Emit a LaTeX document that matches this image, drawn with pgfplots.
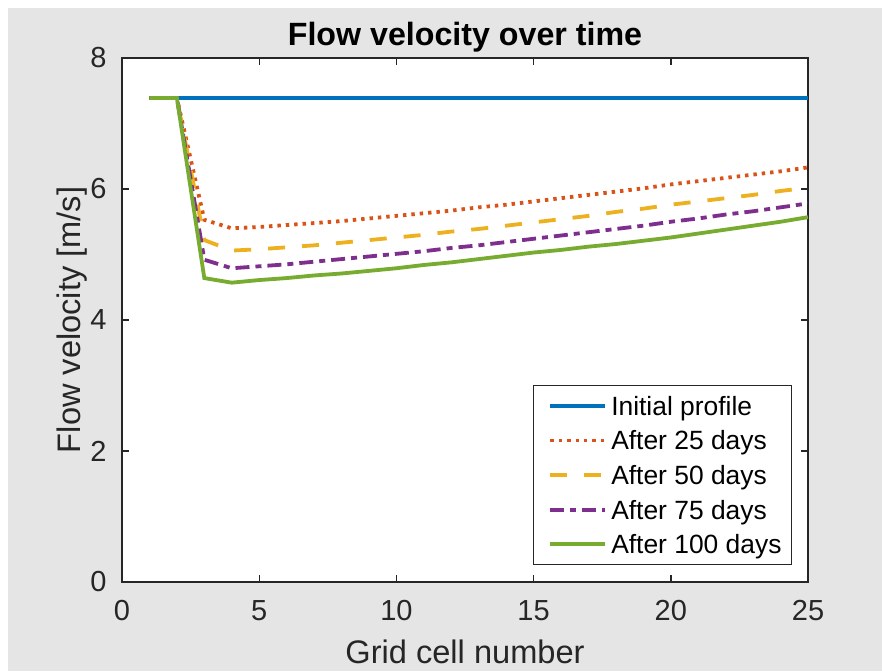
\documentclass[border=0pt]{standalone}
\usepackage{pgfplots}
\pgfplotsset{compat=1.18}
\usepackage{fontspec}
\setmainfont{Liberation Sans}
\definecolor{bg}{HTML}{E5E5E5}
\definecolor{axc}{HTML}{262626}
\definecolor{mblue}{HTML}{0072BD}
\definecolor{morange}{HTML}{D95319}
\definecolor{myellow}{HTML}{EDB120}
\definecolor{mpurple}{HTML}{7E2F8E}
\definecolor{mgreen}{HTML}{77AC30}
\begin{document}
\begin{tikzpicture}[x=1pt,y=1pt]
\fill[white] (0,0) rectangle (441,335.5);
\fill[bg] (4,0) rectangle (441,331.5);
\begin{axis}[
  at={(61pt,44.5pt)}, anchor=south west,
  scale only axis, width=343pt, height=262pt,
  axis background/.style={fill=white},
  xmin=0, xmax=25, ymin=0, ymax=8,
  xtick={0,5,10,15,20,25}, ytick={0,2,4,6,8},
  tick align=inside, major tick length=3.5pt,
  axis line style={color=axc, line width=0.7pt},
  every tick/.style={color=axc, line width=0.7pt},
  /pgf/number format/assume math mode=true,
  ticklabel style={font=\fontsize{14.5}{16}\selectfont, text=axc},
  xticklabel style={inner sep=0pt, anchor=north, yshift=-9pt},
  yticklabel style={inner sep=0pt, anchor=east, xshift=-7.5pt},
  every axis title shift=0pt,
  title={\bfseries Flow velocity over time},
  title style={font=\fontsize{16.1}{18}\selectfont, at={(axis description cs:0.5,1.0248)}, anchor=base, inner sep=0pt},
  xlabel={Grid cell number},
  xlabel style={font=\fontsize{16.3}{18}\selectfont, text=axc, at={(axis description cs:0.5,-0.1546)}, anchor=base, inner sep=0pt},
  ylabel={Flow velocity [m/s]},
  ylabel style={font=\fontsize{16.3}{18}\selectfont, text=axc, at={(axis description cs:-0.0612,0.5)}, anchor=base, inner sep=0pt, rotate=0},
  legend style={at={(axis description cs:1,0)}, anchor=south east, xshift=-8pt, yshift=8.5pt,
    draw=axc, line width=0.5pt, fill=white,
    font=\fontsize{13.2}{15}\selectfont,
    inner xsep=5pt, inner ysep=1.5pt,
    nodes={inner sep=0pt, text height=13.35pt, text depth=3.95pt},
    column sep=2pt},
  legend cell align=left,
  legend image code/.code={\path (-2.5pt,0pt); \draw[#1] (0pt,0pt) -- (27.5pt,0pt);},
]
\addplot[mblue, line width=1.9pt] coordinates {
(1,7.39) (2,7.39) (3,7.39) (4,7.39) (5,7.39) (6,7.39) (7,7.39) (8,7.39) (9,7.39) (10,7.39)
(11,7.39) (12,7.39) (13,7.39) (14,7.39) (15,7.39) (16,7.39) (17,7.39) (18,7.39) (19,7.39) (20,7.39)
(21,7.39) (22,7.39) (23,7.39) (24,7.39) (25,7.39)};
\addlegendentry{Initial profile}
\addplot[morange, line width=1.9pt, line cap=butt, dash pattern=on 1.7pt off 2.5pt] coordinates {
(1,7.39) (2,7.39) (3,5.53) (4,5.40) (5,5.42) (6,5.45) (7,5.48) (8,5.51) (9,5.55) (10,5.59)
(11,5.63) (12,5.67) (13,5.72) (14,5.76) (15,5.81) (16,5.86) (17,5.91) (18,5.96) (19,6.01) (20,6.07)
(21,6.12) (22,6.17) (23,6.22) (24,6.27) (25,6.33)};
\addlegendentry{After 25 days}
\addplot[myellow, line width=1.9pt, line cap=butt, dash pattern=on 8.5pt off 8.5pt] coordinates {
(1,7.39) (2,7.39) (3,5.22) (4,5.06) (5,5.08) (6,5.11) (7,5.14) (8,5.18) (9,5.22) (10,5.26)
(11,5.30) (12,5.35) (13,5.39) (14,5.44) (15,5.49) (16,5.54) (17,5.59) (18,5.65) (19,5.70) (20,5.76)
(21,5.81) (22,5.86) (23,5.91) (24,5.97) (25,6.02)};
\addlegendentry{After 50 days}
\addplot[mpurple, line width=1.9pt, line cap=butt, dash pattern=on 7pt off 3pt on 3pt off 3pt] coordinates {
(1,7.39) (2,7.39) (3,4.92) (4,4.79) (5,4.82) (6,4.85) (7,4.89) (8,4.93) (9,4.97) (10,5.01)
(11,5.05) (12,5.10) (13,5.14) (14,5.19) (15,5.24) (16,5.29) (17,5.34) (18,5.39) (19,5.44) (20,5.50)
(21,5.55) (22,5.61) (23,5.66) (24,5.72) (25,5.78)};
\addlegendentry{After 75 days}
\addplot[mgreen, line width=1.9pt] coordinates {
(1,7.39) (2,7.39) (3,4.64) (4,4.57) (5,4.61) (6,4.64) (7,4.68) (8,4.71) (9,4.75) (10,4.79)
(11,4.84) (12,4.88) (13,4.93) (14,4.98) (15,5.03) (16,5.07) (17,5.12) (18,5.16) (19,5.21) (20,5.26)
(21,5.32) (22,5.38) (23,5.44) (24,5.50) (25,5.57)};
\addlegendentry{After 100 days}
\end{axis}
\end{tikzpicture}
\end{document}
